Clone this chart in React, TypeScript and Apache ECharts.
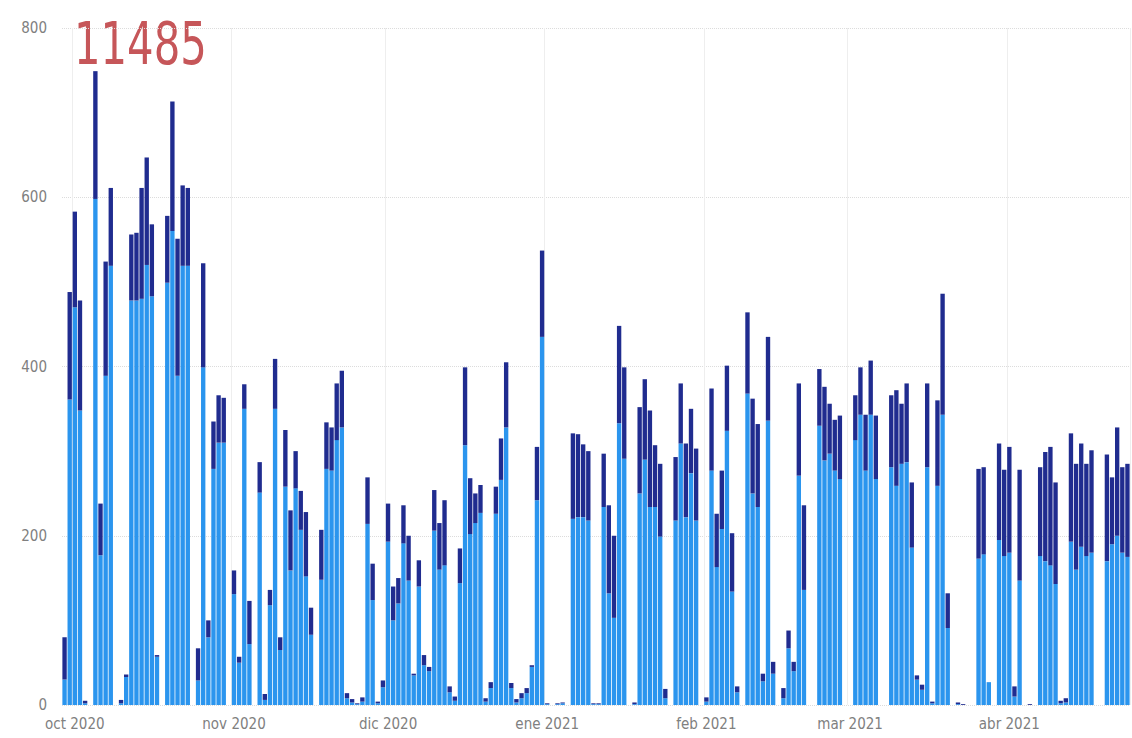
import React, { useEffect, useRef } from 'react';
import * as echarts from 'echarts';

// Daily counts from 2020-09-29 to 2021-04-24 (208 days)
const startDate = '2020-09-29';
const dayCount = 208;

const monthNames = ['ene', 'feb', 'mar', 'abr', 'may', 'jun', 'jul', 'ago', 'sep', 'oct', 'nov', 'dic'];
const yTicks = [0, 200, 400, 600, 800];
const kpiValue = '11485';

// Light blue (bottom) segment
const lightValues = [
  30, 361, 470, 348, 2, 0, 598, 177, 389, 519, 0, 2, 33, 478, 478, 480, 520, 483, 57, 0,
  499, 560, 389, 519, 519, 0, 29, 399, 80, 279, 310, 310, 0, 131, 50, 350, 72, 0, 251, 6,
  118, 350, 65, 258, 159, 256, 207, 152, 83, 0, 148, 279, 277, 313, 328, 8, 3, 1, 4, 214,
  124, 2, 21, 193, 100, 120, 191, 147, 35, 140, 47, 40, 206, 160, 165, 15, 5, 144, 307, 202,
  215, 227, 4, 20, 226, 266, 328, 20, 3, 8, 14, 45, 242, 435, 1, 0, 1, 2, 0, 220,
  222, 222, 218, 1, 1, 234, 132, 103, 333, 291, 0, 1, 250, 290, 234, 234, 199, 8, 0, 218,
  309, 222, 274, 218, 0, 4, 277, 163, 208, 324, 134, 15, 0, 368, 250, 234, 28, 336, 37, 0,
  8, 67, 40, 271, 136, 0, 0, 330, 289, 297, 277, 267, 0, 0, 313, 343, 277, 343, 267, 0,
  0, 281, 259, 285, 287, 186, 30, 18, 281, 2, 259, 343, 91, 0, 1, 0, 0, 0, 173, 178,
  27, 0, 195, 176, 180, 10, 147, 0, 0, 0, 176, 170, 165, 143, 2, 3, 193, 160, 187, 176,
  180, 0, 0, 170, 190, 200, 180, 175,
];

// Dark navy (top) segment
const darkValues = [
  50, 127, 113, 130, 3, 0, 151, 61, 135, 92, 0, 4, 3, 78, 80, 131, 127, 85, 2, 0,
  79, 153, 162, 95, 92, 0, 38, 123, 20, 56, 56, 53, 0, 28, 7, 29, 51, 0, 36, 7,
  18, 59, 15, 67, 71, 44, 46, 76, 32, 0, 59, 55, 51, 67, 67, 6, 4, 1, 5, 55,
  43, 2, 8, 45, 40, 30, 45, 53, 2, 31, 12, 5, 48, 55, 77, 7, 5, 41, 92, 66,
  35, 33, 4, 7, 32, 49, 77, 6, 4, 6, 6, 2, 63, 102, 1, 0, 1, 1, 0, 101,
  98, 86, 82, 1, 1, 63, 104, 97, 115, 108, 0, 2, 102, 95, 114, 73, 86, 11, 0, 75,
  71, 87, 76, 85, 0, 5, 97, 63, 69, 77, 69, 7, 0, 96, 112, 98, 9, 99, 14, 0,
  12, 21, 11, 109, 100, 0, 0, 67, 87, 59, 60, 75, 0, 0, 53, 56, 66, 64, 75, 0,
  0, 85, 113, 71, 93, 77, 5, 6, 99, 2, 101, 143, 41, 0, 2, 1, 0, 0, 106, 103,
  0, 0, 114, 102, 125, 12, 131, 0, 1, 0, 105, 129, 140, 120, 3, 5, 128, 125, 122, 109,
  121, 0, 0, 126, 79, 128, 101, 110,
];

function buildDates(start: string, n: number): string[] {
  const out: string[] = [];
  const base = new Date(start + 'T00:00:00Z').getTime();
  for (let i = 0; i < n; i++) {
    const d = new Date(base + i * 86400000);
    const y = d.getUTCFullYear();
    const m = String(d.getUTCMonth() + 1).padStart(2, '0');
    const dd = String(d.getUTCDate()).padStart(2, '0');
    out.push(`${y}-${m}-${dd}`);
  }
  return out;
}

const categories = buildDates(startDate, dayCount);

const FONT = '"DejaVu Sans Condensed", "DejaVu Sans", sans-serif';

export default function App() {
  const ref = useRef<HTMLDivElement>(null);

  useEffect(() => {
    if (!ref.current) return;
    const chart = echarts.init(ref.current, undefined, { renderer: 'svg' });
    const isMonthStart = (_i: number, v: string) => v.endsWith('-01');
    chart.setOption({
      animation: false,
      backgroundColor: '#ffffff',
      grid: { left: 62, right: 2, top: 28, bottom: 33, containLabel: false },
      xAxis: {
        type: 'category',
        data: categories,
        boundaryGap: true,
        axisLine: { show: false },
        axisTick: { show: false },
        axisLabel: {
          interval: isMonthStart,
          formatter: (v: string) => `${monthNames[parseInt(v.slice(5, 7), 10) - 1]} ${v.slice(0, 4)}`,
          color: '#808080',
          fontSize: 15,
          fontFamily: FONT,
          margin: 11,
        },
        splitLine: {
          show: true,
          interval: isMonthStart,
          lineStyle: { color: '#eeeeee', width: 1 },
        },
      },
      yAxis: {
        type: 'value',
        min: yTicks[0],
        max: yTicks[yTicks.length - 1],
        interval: 200,
        axisLine: { show: false },
        axisTick: { show: false },
        axisLabel: { color: '#808080', fontSize: 15, fontFamily: FONT, margin: 15 },
        splitLine: { show: true, lineStyle: { color: '#dcdcdc', type: 'dotted', width: 1 } },
      },
      series: [
        {
          name: 'light',
          type: 'bar',
          stack: 'total',
          data: lightValues,
          barCategoryGap: '15%',
          itemStyle: { color: '#2b95ee' },
        },
        {
          name: 'dark',
          type: 'bar',
          stack: 'total',
          data: darkValues,
          barCategoryGap: '15%',
          itemStyle: { color: '#202c8f' },
        },
      ],
      graphic: [
        {
          type: 'text',
          x: 74,
          y: 15,
          scaleX: 0.8,
          style: {
            text: kpiValue,
            fill: '#c65659',
            fontSize: 58,
            fontFamily: FONT,
          },
        },
      ],
    });
    return () => chart.dispose();
  }, []);

  return (
    <div
      ref={ref}
      style={{ position: 'absolute', left: 0, top: 0, width: 1132, height: 738 }}
    />
  );
}
